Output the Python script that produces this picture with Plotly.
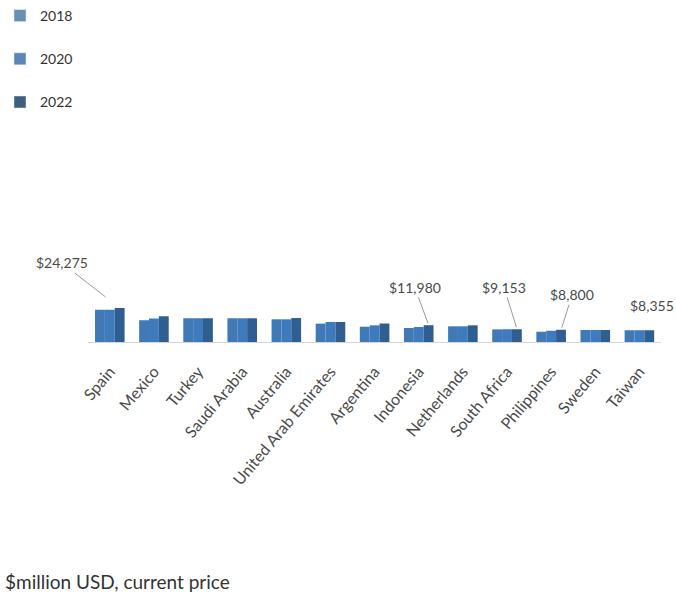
import plotly.graph_objects as go

# Market size by country, $million USD (current price)
countries = ["Spain", "Mexico", "Turkey", "Saudi Arabia", "Australia",
             "United Arab Emirates", "Argentina", "Indonesia", "Netherlands",
             "South Africa", "Philippines", "Sweden", "Taiwan"]
years = ["2018", "2020", "2022"]
values_2018 = [23100, 15500, 16900, 16900, 16200, 13100, 10900, 10000, 11200, 9000, 7300, 8600, 8355]
values_2020 = [23100, 16800, 16900, 16900, 16200, 14300, 11900, 10700, 11200, 9100, 8000, 8600, 8355]
values_2022 = [24275, 18300, 16900, 16900, 17100, 14300, 13200, 11980, 11900, 9153, 8800, 8600, 8355]
series = [values_2018, values_2020, values_2022]

bar_colors = ["#4079b6", "#3d7bbd", "#2f5e90"]
legend_colors = ["#6a8fb5", "#5a87b8", "#3d5f80"]

# highlighted 2022 values: country -> (text offset x, text offset y, standoff)
callouts = {
    "Spain": (-58, -45, 18),
    "Indonesia": (-14, -38, 2),
    "South Africa": (-13, -42, 2),
    "Philippines": (11, -35, 2),
    "Taiwan": (3, -25, None),
}

FONT = "Lato"
TEXT = "#4a4a4a"

fig = go.Figure()
for year, vals, col, lcol in zip(years, series, bar_colors, legend_colors):
    fig.add_trace(go.Bar(
        x=countries, y=vals, name=year, legendgroup=year,
        marker=dict(color=col, line=dict(width=0)),
        showlegend=False,
    ))
    # legend swatch in a softer tone, kept on a separate hidden axis pair
    fig.add_trace(go.Bar(
        x=[None], y=[None], name=year, legendgroup=year,
        marker=dict(color=lcol), showlegend=True,
        xaxis="x2", yaxis="y2",
    ))

for country, (ax, ay, standoff) in callouts.items():
    i = countries.index(country)
    v = values_2022[i]
    fig.add_annotation(
        x=country, y=v, xref="x", yref="y", xshift=10,
        text=f"${v:,}", showarrow=True, arrowhead=0, arrowwidth=1,
        arrowcolor="#9a9a9a" if standoff is not None else "rgba(0,0,0,0)",
        standoff=standoff or 0, ax=ax, ay=ay,
        font=dict(family=FONT, size=14, color=TEXT),
    )

fig.add_annotation(
    x=-0.008, y=1 - 581 / 598, xref="paper", yref="paper",
    xanchor="left", yanchor="middle", showarrow=False,
    text="$million USD, current price",
    font=dict(family=FONT, size=19, color="#333333"),
)

fig.update_layout(
    width=676, height=598,
    margin=dict(l=0, r=0, t=0, b=0),
    paper_bgcolor="white", plot_bgcolor="white",
    barmode="group", bargap=0.33, bargroupgap=0,
    font=dict(family=FONT, size=13, color=TEXT),
    legend=dict(
        x=-0.012, y=1.0, xanchor="left", yanchor="top",
        orientation="v", tracegroupgap=22, itemwidth=30,
        font=dict(family=FONT, size=14, color="#333333"),
        bgcolor="rgba(0,0,0,0)",
    ),
    xaxis=dict(
        domain=[80.7 / 676, 661.3 / 676],
        range=[-0.5, len(countries) - 0.5],
        categoryorder="array", categoryarray=countries,
        showline=True, linecolor="#d6d6d6", linewidth=1,
        showgrid=False, zeroline=False, ticks="",
        tickangle=-50, ticklabelstandoff=13, automargin=False,
        tickfont=dict(family=FONT, size=16, color=TEXT),
    ),
    yaxis=dict(
        domain=[1 - 342 / 598, 1 - 240 / 598],
        range=[0, 72800], visible=False, automargin=False,
    ),
    xaxis2=dict(visible=False, domain=[0, 0.01], anchor="y2"),
    yaxis2=dict(visible=False, domain=[0.99, 1], anchor="x2"),
)

fig.write_html("out.html")
